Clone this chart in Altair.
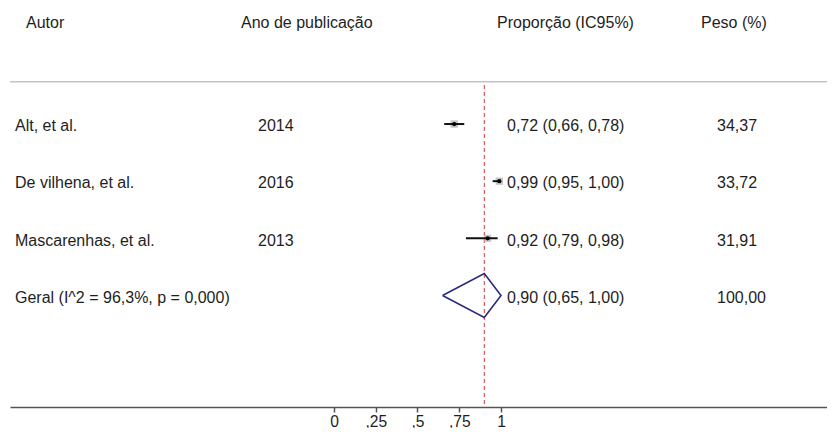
import altair as alt
import pandas as pd

# ---- data ----
studies = ["Alt, et al.", "De vilhena, et al.", "Mascarenhas, et al."]
years = ["2014", "2016", "2013"]
est = [0.72, 0.99, 0.92]
lo = [0.66, 0.95, 0.79]
hi = [0.78, 1.00, 0.98]
weights = [34.37, 33.72, 31.91]

pooled_label = "Geral (I^2 = 96,3%, p = 0,000)"
pooled_est = 0.90
pooled_lo = 0.65
pooled_hi = 1.00
pooled_weight = 100.00

headers = ["Autor", "Ano de publicação", "Proporção (IC95%)", "Peso (%)"]
tick_values = [0, 0.25, 0.5, 0.75, 1]

# ---- helpers ----
FONT = "Liberation Sans"
FS = 16
TXT = "#1e1e1e"


def fmt(v):
    return f"{v:.2f}".replace(".", ",")


n = len(studies)
study_df = pd.DataFrame({
    "row": list(range(n)),
    "est": est, "lo": lo, "hi": hi, "weight": weights,
})
text_df = pd.DataFrame({
    "row": list(range(n + 1)),
    "label": studies + [pooled_label],
    "year": years + [""],
    "ci": [f"{fmt(e)} ({fmt(l)}, {fmt(h)})" for e, l, h in zip(est, lo, hi)]
          + [f"{fmt(pooled_est)} ({fmt(pooled_lo)}, {fmt(pooled_hi)})"],
    "wt": [fmt(w) for w in weights] + [fmt(pooled_weight)],
})
pooled_df = pd.DataFrame({"est": [pooled_est]})

half = 0.385  # diamond half height in row units
pr = n
diamond_df = pd.DataFrame({
    "k": [0, 1, 2, 3, 4],
    "x": [pooled_lo, pooled_est, pooled_hi, pooled_est, pooled_lo],
    "y": [pr, pr - half, pr, pr + half, pr],
})

W, H = 817, 399
xscale = alt.Scale(domain=[-1.9401, 2.9521], nice=False, zero=False)
yscale = alt.Scale(domain=[-2.031, 4.953], reverse=True, nice=False, zero=False)
xaxis = alt.Axis(
    values=tick_values,
    labelExpr="replace(format(datum.value, '~g'), '0.', ',')",
    domainColor="#555555", domainWidth=1.5,
    tickColor="#555555", tickWidth=1.5, tickSize=5,
    labelFont=FONT, labelFontSize=15.6, labelColor=TXT,
    labelBaseline="alphabetic", labelPadding=14,
    labelFlush=False, labelOverlap=False, grid=False, title=None,
)


def X(field):
    return alt.X(field, scale=xscale, axis=xaxis, title=None)


def Y(field):
    return alt.Y(field, scale=yscale, axis=None, title=None)


# top separator
top_rule = alt.Chart(pooled_df).mark_rule(color="#c4c4c4", strokeWidth=1.5).encode(
    x=alt.value(0), x2=alt.value(W), y=alt.value(73.7)
)

# pooled estimate dashed line
dash = alt.Chart(pooled_df).mark_rule(
    color="#d2363f", strokeWidth=1, strokeDash=[4, 3]
).encode(x=X("est:Q"), y=alt.value(77), y2=alt.value(H))

boxes = alt.Chart(study_df).mark_square(color="#b3b3b3", opacity=0.75).encode(
    x=X("est:Q"), y=Y("row:Q"),
    size=alt.Size("weight:Q", scale=alt.Scale(domain=[0, 35], range=[0, 56]), legend=None),
)
ci = alt.Chart(study_df).mark_rule(color="#111111", strokeWidth=2).encode(
    x=X("lo:Q"), x2="hi:Q", y=Y("row:Q")
)
pts = alt.Chart(study_df).mark_circle(color="#000000", size=18, opacity=1).encode(
    x=X("est:Q"), y=Y("row:Q")
)
diamond = alt.Chart(diamond_df).mark_line(color="#2a2a80", strokeWidth=1.6).encode(
    x=X("x:Q"), y=Y("y:Q"), order="k:Q"
)


def col_text(field, xpx):
    return alt.Chart(text_df).mark_text(
        align="left", baseline="alphabetic", dy=7.3,
        font=FONT, fontSize=FS, color=TXT,
    ).encode(x=alt.value(xpx), y=Y("row:Q"), text=f"{field}:N")


header_x = [16, 231, 487, 691]
header_layers = [
    alt.Chart(pooled_df).mark_text(
        align="left", baseline="alphabetic", font=FONT, fontSize=FS, color=TXT, text=h
    ).encode(x=alt.value(hx), y=alt.value(19.7))
    for h, hx in zip(headers, header_x)
]

chart = alt.layer(
    top_rule, dash, boxes, ci, pts, diamond,
    col_text("label", 5), col_text("year", 248), col_text("ci", 497), col_text("wt", 707),
    *header_layers,
).properties(
    width=W, height=H,
    autosize=alt.AutoSizeParams(type="none"),
    padding={"left": 2, "top": 0, "right": 0, "bottom": 420 - H},
    background="white",
).configure_view(stroke=None)

chart.save("out.html", embed_options={"renderer": "svg", "actions": False})
